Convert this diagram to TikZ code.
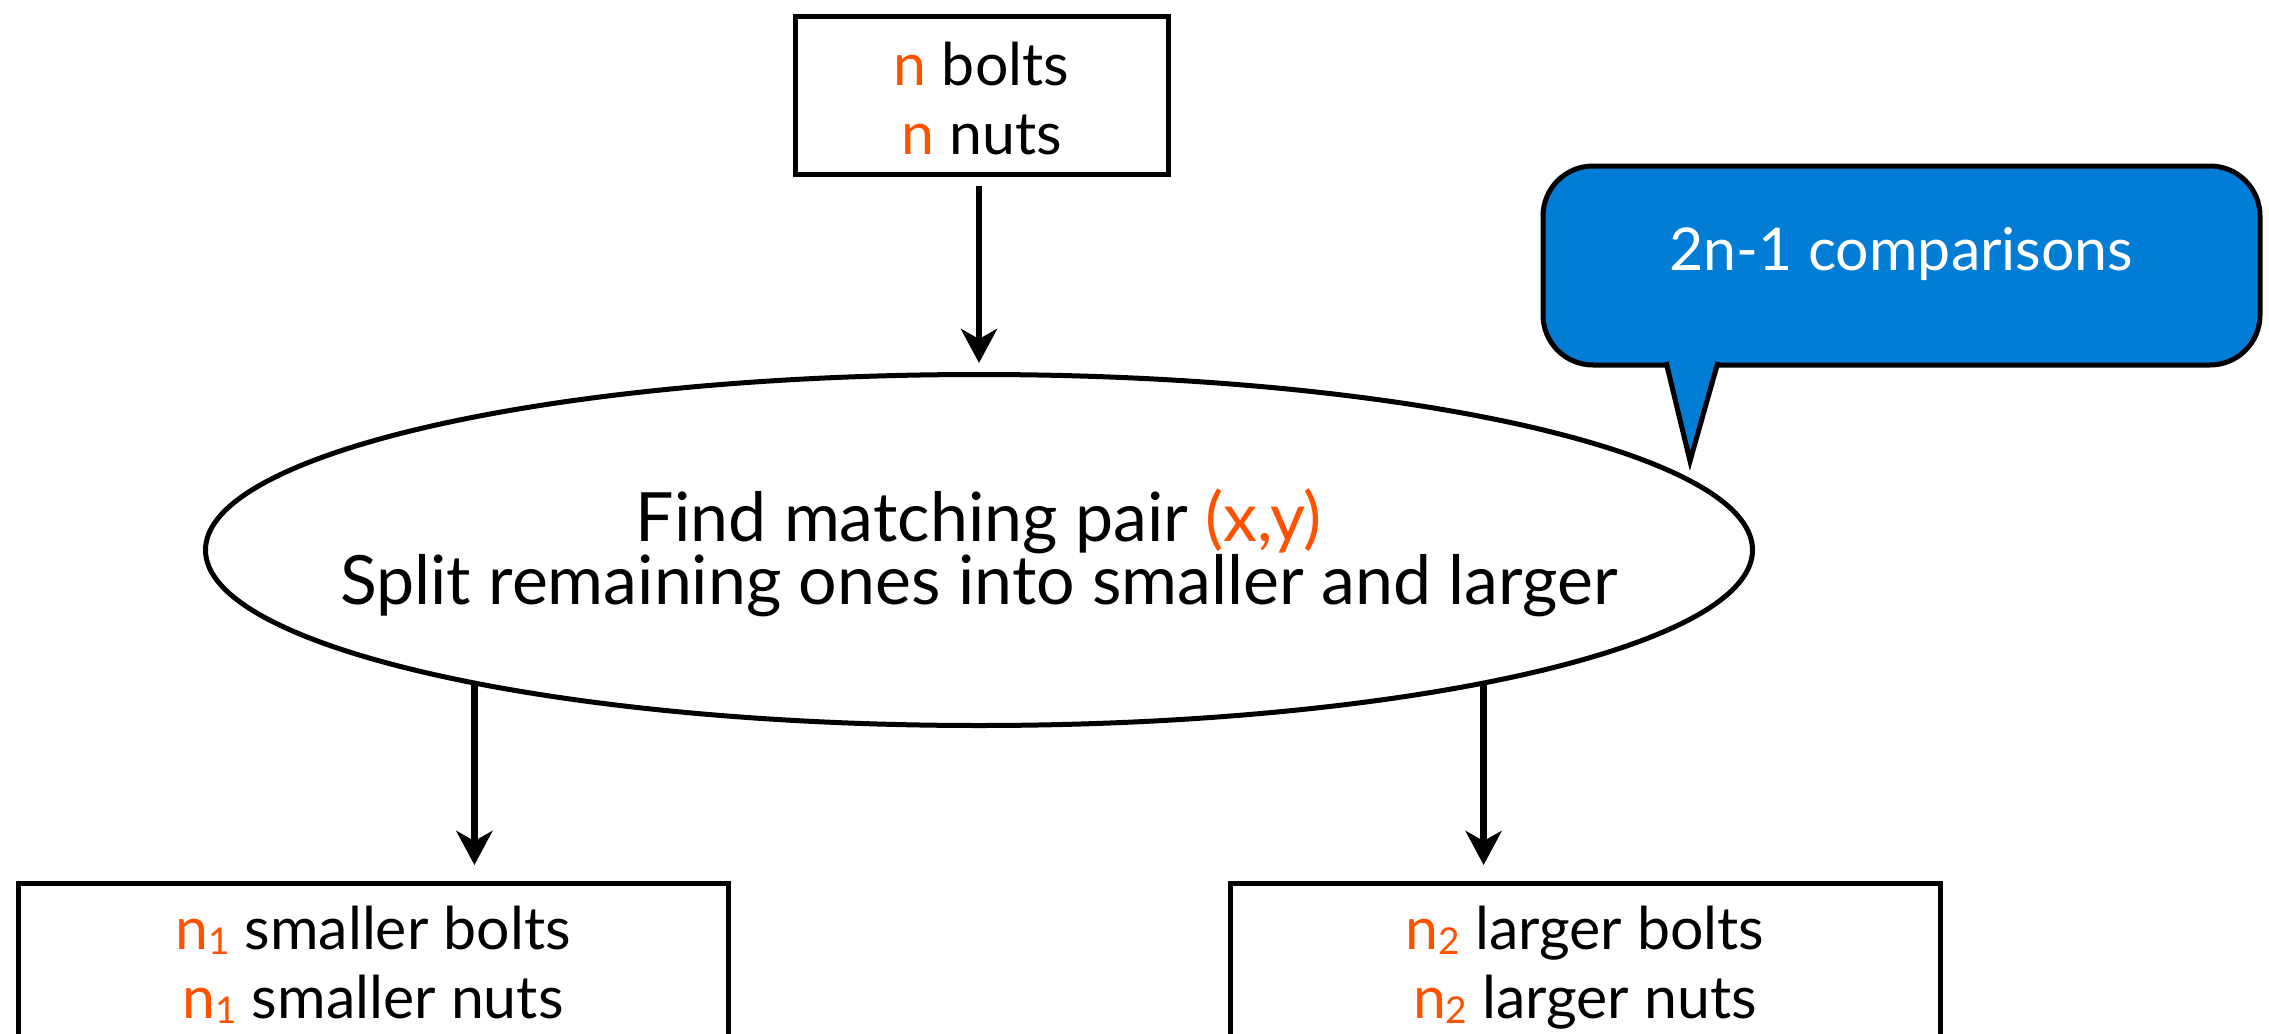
\documentclass[tikz,border=0pt]{standalone}
\usepackage{fontspec}
\setmainfont{Lato}
\usetikzlibrary{shapes.geometric,arrows.meta}
\definecolor{accent}{RGB}{255,82,0}
\definecolor{callblue}{RGB}{2,125,214}
\newcommand{\hl}[1]{\textcolor{accent}{#1}}
\newcommand{\nidx}[1]{\textcolor{accent}{n\raisebox{-5pt}{\fontsize{37}{37}\selectfont #1}}}
\begin{document}
\begin{tikzpicture}[x=1pt,y=-1pt,
  boxtext/.style={font=\fontsize{59}{69}\selectfont},
  box/.style={draw, line width=5pt, align=center, inner xsep=0pt, inner ysep=0pt, boxtext},
  flow/.style={line width=6.5pt, -{Stealth[length=34pt,width=36pt,inset=10pt]}},
  callbox/.style={draw, fill=callblue, line width=5pt, rounded corners=50pt,
    text=white, inner sep=0pt, boxtext},
]
\path[use as bounding box, fill=white] (0,0) rectangle (2269,1033);

% input (baseline of the node text is its last line)
\node[box, anchor=north, minimum width=373pt, text height=137.5pt, text depth=20pt]
  (top) at (981.5,14.5) {\hl{n} bolts\\\hl{n} nuts};

% partition step
\node[draw, ellipse, line width=5pt, minimum width=1547pt, minimum height=351pt, inner sep=0pt]
  (el) at (979,550) {};
\node[font=\fontsize{68}{62}\selectfont, align=center] (eltext) at ([yshift=-3pt]el.center)
  {Find matching pair \hl{(x,y)}\\Split remaining ones into smaller and larger};

% sub-problems
\node[box, anchor=north, minimum width=710pt, text height=135pt, text depth=300pt]
  (L) at (373,881) {\nidx{1} smaller bolts\\\nidx{1} smaller nuts};
\node[box, anchor=north, minimum width=710pt, text height=135pt, text depth=300pt]
  (R) at (1585,881) {\nidx{2} larger bolts\\\nidx{2} larger nuts};

% arrows
\draw[flow, shorten <=8.5pt, shorten >=9pt] (top.south -| el.north) -- (el.north);
\draw[flow, shorten >=16pt] (el.195) -- (el.195 |- L.north);
\draw[flow, shorten >=16pt] (el.345.7) -- (el.345.7 |- R.north);

% cost callout
\node[callbox, minimum width=717pt, minimum height=199pt, text height=42pt, text depth=33pt]
  (cmt) at (1901.5,265.5) {2n-1 comparisons};
\draw[line width=5pt, fill=callblue] (1666,362) -- (1690,461) -- (1718,362);
\end{tikzpicture}
\end{document}
